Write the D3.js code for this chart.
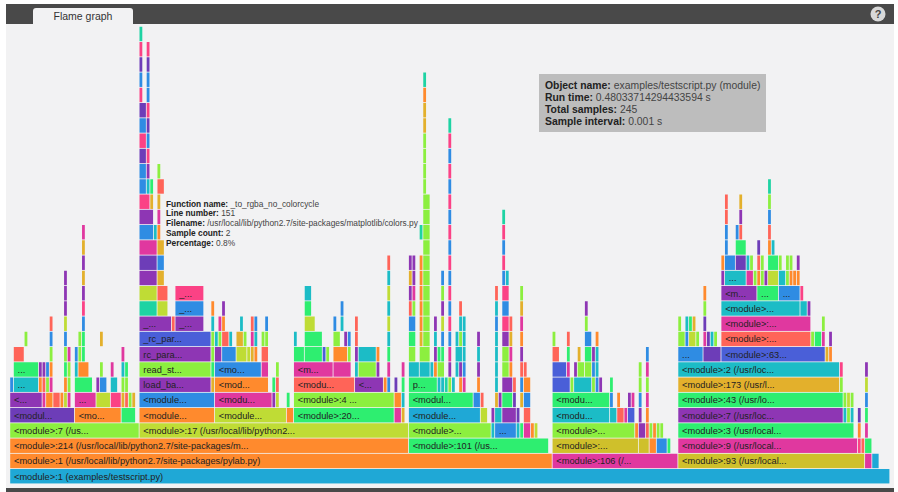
<!DOCTYPE html>
<html>
<head>
<meta charset="utf-8">
<script src="https://cdn.jsdelivr.net/npm/d3@7.9.0/dist/d3.min.js"></script>
<style>
html, body { margin: 0; padding: 0; background: #fff; }
svg { display: block; font-family: "Liberation Sans", sans-serif; }
</style>
</head>
<body>
<svg id="flame" width="898" height="492"></svg>
<script>
const totalSamples = 245;
const levelCount = 30;

// each frame: [first sample, sample count, colour group, label]
const row0 = [[0,245,'sky','<module>:1 (examples/testscript.py)']];
const row1 = [[0,151,'orange','<module>:1 (/usr/local/lib/python2.7/site-packages/pylab.py)'],[151,35,'magenta','<module>:106 (/...'],[186,52,'yellow','<module>:93 (/usr/local...'],[238,2,'magenta'],[240,2,'sky']];
const row2 = [[0,111,'orange','<module>:214 (/usr/local/lib/python2.7/site-packages/m...'],[111,39,'green','<module>:101 (/us...'],[151,24,'yellow','<module>:...'],[175,3,'yellow'],[178,2,'orange'],[180,3,'blue'],[183,1,'green'],[186,50,'magenta','<module>:9 (/usr/local...'],[236,1,'pink'],[237,1,'coral'],[238,2,'green']];
const row3 = [[0,36,'lime','<module>:7 (/us...'],[36,75,'olive','<module>:17 (/usr/local/lib/python2...'],[111,23,'lime','<module>...'],[134,1,'teal'],[135,6,'blue','...'],[141,1,'teal'],[142,1,'green'],[143,2,'magenta'],[145,1,'orange'],[146,1,'olive'],[151,23,'lime','<module>...'],[174,1,'orange'],[175,2,'purple'],[177,1,'coral'],[178,1,'lime'],[179,1,'orange'],[180,1,'lime'],[181,1,'lime'],[186,49,'green','<module>:3 (/usr/local...'],[236,1,'orange'],[238,1,'magenta']];
const row4 = [[0,18,'violet','<modul...'],[18,13,'orange','<mo...'],[31,4,'green'],[36,21,'orange','<module...'],[57,20,'olive','<module...'],[77,2,'orange'],[79,28,'green','<module>:20...'],[107,2,'magenta'],[109,1,'gold'],[111,20,'sky','<module...'],[131,2,'olive'],[134,1,'purple'],[135,2,'teal'],[137,4,'purple'],[141,1,'violet'],[143,2,'coral'],[151,16,'teal','<modu...'],[167,2,'teal'],[169,2,'coral'],[171,1,'magenta'],[172,2,'indigo'],[175,1,'purple'],[177,1,'orange'],[186,46,'purple','<module>:7 (/usr/loc...'],[232,1,'teal'],[233,1,'lime'],[234,1,'teal'],[236,1,'violet'],[238,1,'green']];
const row5 = [[0,9,'purple','<...'],[9,1,'magenta'],[10,2,'orange'],[12,2,'coral'],[14,1,'orange'],[15,1,'olive'],[16,1,'magenta'],[18,6,'magenta','...'],[24,4,'olive'],[28,3,'pink'],[31,1,'gold'],[32,1,'coral'],[33,1,'lime'],[34,1,'gold'],[36,21,'blue','<module...'],[57,16,'magenta','<modu...'],[73,1,'purple'],[74,1,'olive'],[77,1,'green'],[79,28,'lime','<module>:4 ...'],[107,2,'orange'],[109,1,'teal'],[111,18,'green','<modul...'],[129,2,'blue'],[131,1,'coral'],[135,1,'gold'],[136,1,'purple'],[137,3,'green'],[140,1,'violet'],[142,1,'gold'],[143,2,'blue'],[151,16,'green','<modu...'],[167,1,'blue'],[169,1,'orange'],[172,1,'purple'],[173,1,'magenta'],[175,1,'blue'],[177,1,'magenta'],[186,46,'green','<module>:43 (/usr/lo...'],[232,1,'lime'],[233,1,'olive'],[234,1,'lime'],[238,1,'blue']];
const row6 = [[0,1,'blue'],[1,7,'teal','...'],[8,1,'orange'],[9,1,'coral'],[10,1,'lime'],[11,1,'magenta'],[15,1,'orange'],[16,1,'lime'],[18,5,'green'],[24,1,'purple'],[25,2,'blue'],[28,2,'teal'],[31,1,'lime'],[32,1,'lime'],[36,20,'purple','load_ba...'],[56,1,'gold'],[57,15,'orange','<mod...'],[73,1,'green'],[74,1,'coral'],[79,17,'coral','<modu...'],[96,8,'purple','<...'],[104,1,'orange'],[105,1,'blue'],[107,1,'violet'],[109,1,'green'],[111,8,'green','p...'],[119,1,'teal'],[120,1,'teal'],[121,1,'mint'],[122,1,'lime'],[123,1,'teal'],[125,1,'orange'],[126,1,'magenta'],[130,1,'orange'],[135,1,'teal'],[137,3,'purple'],[140,1,'coral'],[142,1,'blue'],[143,2,'orange'],[151,5,'indigo'],[156,1,'lime'],[157,5,'teal'],[162,1,'lime'],[163,1,'blue'],[164,1,'purple'],[167,1,'green'],[175,1,'lime'],[177,1,'lime'],[186,45,'gold','<module>:173 (/usr/l...'],[231,1,'lime'],[238,1,'olive']];
const row7 = [[1,7,'green','...'],[8,1,'purple'],[9,1,'purple'],[10,1,'blue'],[11,1,'orange'],[15,1,'green'],[16,1,'lime'],[18,1,'teal'],[19,3,'orange'],[25,1,'lime'],[28,1,'magenta'],[31,1,'teal'],[32,1,'green'],[36,20,'lime','read_st...'],[56,1,'green'],[57,13,'blue','<mo...'],[70,2,'magenta'],[74,1,'lime'],[79,11,'magenta','<m...'],[90,5,'magenta'],[96,1,'teal'],[97,5,'lime'],[102,1,'purple'],[105,1,'magenta'],[109,1,'magenta'],[111,3,'teal'],[114,3,'teal'],[117,1,'teal'],[118,1,'orange'],[119,2,'lime'],[122,1,'purple'],[124,1,'teal'],[125,1,'purple'],[126,1,'blue'],[130,1,'purple'],[135,1,'teal'],[137,2,'lime'],[139,1,'orange'],[142,1,'coral'],[143,1,'coral'],[151,4,'indigo'],[155,1,'magenta'],[157,1,'purple'],[158,2,'lime'],[160,2,'lime'],[162,1,'blue'],[163,1,'teal'],[175,1,'lime'],[177,1,'magenta'],[186,45,'teal','<module>:2 (/usr/loc...'],[231,1,'pink'],[238,1,'purple']];
const row8 = [[1,3,'coral'],[11,1,'lime'],[15,1,'lime'],[16,1,'magenta'],[18,1,'blue'],[19,1,'lime'],[20,1,'green'],[31,1,'magenta'],[36,20,'purple','rc_para...'],[56,1,'lime'],[57,2,'purple'],[59,4,'blue'],[63,3,'olive'],[66,1,'olive'],[67,1,'gold'],[68,1,'orange'],[70,2,'coral'],[79,3,'green'],[82,5,'green'],[87,1,'indigo'],[88,1,'lime'],[90,4,'orange'],[94,1,'lime'],[96,1,'purple'],[97,5,'teal'],[102,1,'orange'],[105,1,'green'],[111,2,'lime'],[114,3,'lime'],[118,1,'purple'],[119,1,'green'],[120,1,'green'],[122,1,'magenta'],[124,2,'teal'],[126,1,'teal'],[130,1,'teal'],[135,1,'teal'],[137,2,'lime'],[139,1,'magenta'],[142,1,'purple'],[151,2,'coral'],[155,1,'green'],[158,1,'gold'],[160,2,'green'],[162,1,'purple'],[163,1,'teal'],[177,1,'blue'],[186,7,'blue','...'],[193,5,'violet'],[198,29,'indigo','<module>:63...'],[227,1,'gold'],[228,1,'orange']];
const row9 = [[4,1,'lime'],[11,1,'blue'],[15,1,'blue'],[19,1,'lime'],[20,1,'green'],[25,1,'gold'],[36,20,'indigo','_rc_par...'],[56,1,'lime'],[57,1,'teal'],[58,1,'lime'],[59,2,'coral'],[61,1,'teal'],[63,2,'gold'],[65,1,'lime'],[67,1,'magenta'],[68,1,'teal'],[70,1,'lime'],[71,1,'lime'],[79,1,'teal'],[82,5,'green'],[90,2,'lime'],[93,1,'purple'],[94,1,'blue'],[96,1,'coral'],[105,1,'teal'],[111,2,'green'],[114,1,'gold'],[115,2,'lime'],[118,1,'teal'],[120,1,'blue'],[122,1,'blue'],[124,1,'teal'],[125,1,'lime'],[126,1,'teal'],[130,1,'purple'],[135,1,'teal'],[137,2,'purple'],[139,1,'gold'],[142,1,'orange'],[151,1,'lime'],[155,1,'coral'],[160,2,'blue'],[163,1,'orange'],[186,2,'lime'],[188,1,'blue'],[189,2,'olive'],[191,1,'lime'],[193,1,'magenta'],[194,1,'violet'],[195,1,'teal'],[196,1,'lime'],[198,25,'coral','<module>:...'],[223,1,'lime'],[224,2,'green'],[226,1,'magenta'],[228,1,'purple']];
const row10 = [[11,1,'coral'],[15,1,'olive'],[20,1,'blue'],[36,9,'purple','_...'],[45,1,'coral'],[46,8,'purple','_...'],[56,1,'teal'],[58,1,'magenta'],[59,1,'orange'],[64,1,'teal'],[67,1,'coral'],[68,1,'blue'],[71,1,'blue'],[82,3,'olive'],[90,1,'blue'],[92,1,'teal'],[96,1,'coral'],[105,1,'olive'],[111,2,'blue'],[114,1,'orange'],[115,2,'lime'],[118,1,'purple'],[120,1,'olive'],[122,1,'pink'],[125,1,'teal'],[126,1,'teal'],[135,1,'blue'],[137,2,'pink'],[139,1,'coral'],[142,1,'magenta'],[160,1,'lime'],[186,1,'lime'],[188,1,'teal'],[189,1,'green'],[190,1,'gold'],[193,1,'violet'],[198,25,'magenta','<module>:...'],[226,1,'lime']];
const row11 = [[15,1,'purple'],[20,1,'pink'],[36,5,'mint'],[41,3,'olive'],[46,8,'blue','_...'],[56,1,'orange'],[59,1,'purple'],[82,2,'green'],[92,1,'blue'],[105,1,'teal'],[111,1,'coral'],[112,1,'lime'],[114,1,'orange'],[115,2,'lime'],[120,1,'purple'],[122,1,'blue'],[125,1,'coral'],[135,1,'teal'],[137,2,'blue'],[142,1,'gold'],[160,1,'purple'],[193,1,'lime'],[198,22,'teal','<module>...'],[220,2,'teal'],[222,1,'purple']];
const row12 = [[15,1,'purple'],[20,1,'purple'],[36,5,'olive'],[41,3,'coral'],[46,8,'pink','_...'],[82,2,'teal'],[105,1,'olive'],[111,1,'purple'],[112,1,'magenta'],[114,1,'orange'],[115,2,'lime'],[120,1,'lime'],[122,1,'pink'],[135,1,'coral'],[137,2,'pink'],[142,1,'lime'],[193,1,'orange'],[198,10,'purple','<m...'],[208,6,'green','...'],[214,6,'blue','...'],[220,1,'pink']];
const row13 = [[15,1,'purple'],[20,1,'gold'],[36,5,'purple'],[41,2,'gold'],[105,1,'teal'],[111,1,'gold'],[112,1,'purple'],[114,1,'orange'],[115,2,'lime'],[120,1,'blue'],[122,1,'blue'],[137,1,'blue'],[138,1,'teal'],[198,1,'purple'],[199,6,'teal','...'],[205,2,'magenta'],[207,1,'lime'],[208,1,'orange'],[209,1,'lime'],[210,1,'purple'],[211,3,'olive'],[214,2,'teal'],[216,1,'lime'],[217,1,'orange'],[218,1,'orange'],[219,1,'orange']];
const row14 = [[20,1,'purple'],[36,5,'violet'],[41,2,'blue'],[105,1,'coral'],[111,1,'purple'],[112,1,'purple'],[114,1,'orange'],[115,2,'lime'],[122,1,'pink'],[137,1,'pink'],[198,1,'orange'],[199,3,'blue'],[202,3,'violet'],[205,1,'teal'],[206,1,'lime'],[208,1,'coral'],[209,1,'lime'],[211,3,'green'],[214,1,'lime'],[216,1,'lime'],[217,1,'lime'],[219,1,'purple']];
const row15 = [[20,1,'gold'],[36,5,'magenta'],[41,2,'gold'],[115,2,'lime'],[122,1,'blue'],[137,1,'blue'],[199,1,'blue'],[202,3,'green'],[208,1,'violet'],[211,1,'orange'],[212,1,'teal']];
const row16 = [[20,1,'magenta'],[36,4,'blue'],[40,1,'teal'],[41,1,'orange'],[114,1,'mint'],[115,2,'lime'],[122,1,'pink'],[137,1,'pink'],[199,1,'blue'],[202,1,'blue'],[203,1,'coral'],[211,1,'coral']];
const row17 = [[36,4,'purple'],[41,1,'magenta'],[115,2,'lime'],[122,1,'blue'],[137,1,'mint'],[199,1,'coral'],[203,1,'purple'],[211,1,'blue']];
const row18 = [[36,3,'pink'],[39,1,'gold'],[41,1,'gold'],[115,2,'lime'],[122,1,'pink'],[199,1,'coral'],[203,1,'gold'],[211,1,'lime']];
const row19 = [[36,2,'blue'],[38,1,'teal'],[39,1,'green'],[41,2,'coral'],[115,1,'lime'],[122,1,'blue'],[211,1,'mint']];
const row20 = [[36,2,'blue'],[38,1,'purple'],[41,1,'lime'],[115,1,'lime'],[122,1,'pink']];
const row21 = [[36,2,'violet'],[38,1,'pink'],[115,1,'lime'],[122,1,'blue']];
const row22 = [[36,2,'pink'],[38,1,'blue'],[115,1,'lime'],[122,1,'pink']];
const row23 = [[36,2,'blue'],[38,1,'violet'],[115,1,'gold'],[122,1,'mint']];
const row24 = [[36,2,'violet'],[38,1,'pink'],[115,1,'gold']];
const row25 = [[36,1,'pink'],[38,1,'blue'],[115,1,'orange']];
const row26 = [[36,1,'blue'],[38,1,'blue'],[115,1,'mint']];
const row27 = [[36,1,'violet'],[38,1,'violet']];
const row28 = [[36,1,'pink'],[38,1,'pink']];
const row29 = [[36,1,'mint']];

const rows = [row0, row1, row2, row3, row4, row5, row6, row7, row8, row9, row10, row11, row12, row13, row14,
    row15, row16, row17, row18, row19, row20, row21, row22, row23, row24, row25, row26, row27, row28, row29];

const colourNames = ['sky','blue','teal','mint','green','lime','olive','yellow','gold','orange','coral','pink','magenta','purple','violet','indigo'];
const colourValues = ['#1fa8d6','#2f8ce3','#1cbcc6','#1ed3a3','#2eee70','#8cef3f','#bfdc35','#cfc02b','#e3b02c','#ff8a2d','#ff6458','#fb4285','#e0389f','#8e36b4','#6d3db8','#4a5fd8'];

const tooltipLines = [
    ['Function name:', '_to_rgba_no_colorcycle'],
    ['Line number:', '151'],
    ['Filename:', '/usr/local/lib/python2.7/site-packages/matplotlib/colors.py'],
    ['Sample count:', '2'],
    ['Percentage:', '0.8%'],
];
const infoLines = [
    ['Object name:', 'examples/testscript.py (module)'],
    ['Run time:', '0.48033714294433594 s'],
    ['Total samples:', '245'],
    ['Sample interval:', '0.001 s'],
];

const svg = d3.select('#flame');
const x = d3.scaleLinear().domain([0, totalSamples]).range([10, 890]);
const y = d3.scaleLinear().domain([0, levelCount]).range([484.25, 26.75]);
const colour = d3.scaleOrdinal().domain(colourNames).range(colourValues);

// page chrome
svg.append('rect').attr('x', 6).attr('y', 4).attr('width', 888).attr('height', 20).attr('fill', '#494949');
svg.append('rect').attr('x', 6).attr('y', 24).attr('width', 888).attr('height', 464).attr('fill', '#f2f2f3');
svg.append('rect').attr('x', 6).attr('y', 488).attr('width', 888).attr('height', 4).attr('fill', '#494949');
svg.append('path')
    .attr('d', 'M33,24 V11 Q33,8 36,8 H130 Q133,8 133,11 V24 Z')
    .attr('fill', '#f2f2f3');
svg.append('text').attr('x', 83).attr('y', 20).attr('text-anchor', 'middle')
    .attr('font-size', 10.5).attr('fill', '#333').text('Flame graph');
svg.append('circle').attr('cx', 878).attr('cy', 14).attr('r', 7.5).attr('fill', '#d8d8d8');
svg.append('text').attr('x', 878).attr('y', 18).attr('text-anchor', 'middle')
    .attr('font-size', 11).attr('font-weight', 'bold').attr('fill', '#444').text('?');

// flame bars
const levels = svg.selectAll('g.level')
    .data(rows)
    .join('g')
    .attr('class', 'level')
    .attr('transform', (d, i) => `translate(0,${y(i + 1)})`);

const frames = levels.selectAll('g.frame')
    .data((d) => d)
    .join('g')
    .attr('class', 'frame');

const barHeight = y(0) - y(1) - 0.8;

frames.append('rect')
    .attr('x', (d) => x(d[0]) + 0.2)
    .attr('width', (d) => x(d[0] + d[1]) - x(d[0]) - 0.8)
    .attr('height', barHeight)
    .attr('fill', (d) => colour(d[2]));

frames.filter((d) => d[3])
    .append('text')
    .attr('x', (d) => x(d[0]) + 4)
    .attr('y', 10.6)
    .attr('font-size', 9.25)
    .attr('fill', '#222')
    .text((d) => d[3]);

// tooltip and info box
function drawLines(parent, lines, left, top, lineHeight, size) {
    const text = parent.selectAll('text')
        .data(lines)
        .join('text')
        .attr('x', left)
        .attr('y', (d, i) => top + i * lineHeight)
        .attr('font-size', size)
        .attr('fill', '#222');
    text.append('tspan').attr('font-weight', 'bold').text((d) => d[0] + ' ');
    text.append('tspan').attr('fill', '#444').text((d) => d[1]);
}

const info = svg.append('g');
info.append('rect').attr('x', 539).attr('y', 74).attr('width', 227).attr('height', 58).attr('fill', '#bdbdbd');
drawLines(info, infoLines, 545, 88.5, 12, 10.4);

drawLines(svg.append('g'), tooltipLines, 166, 206.5, 9.75, 8.35);
</script>
</body>
</html>
